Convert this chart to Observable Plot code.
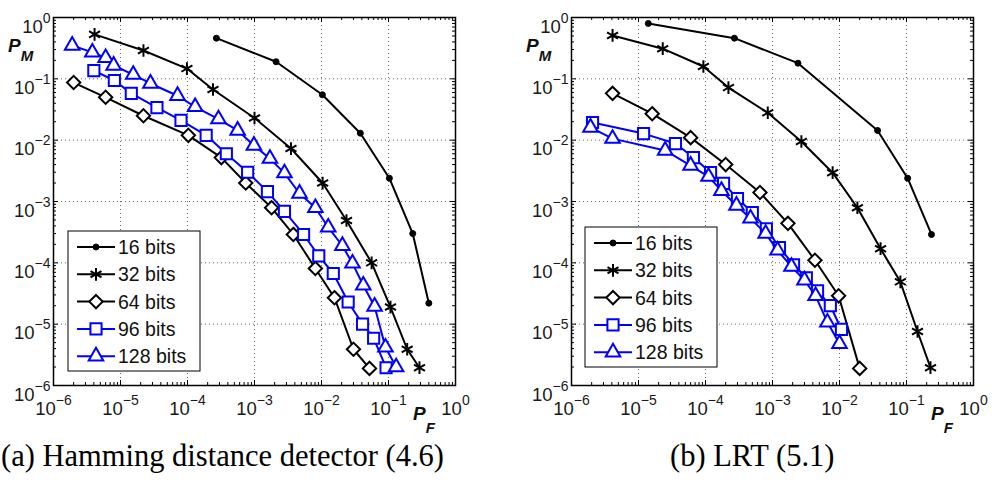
<!DOCTYPE html>
<html><head><meta charset="utf-8">
<script src="https://cdn.jsdelivr.net/npm/d3@7"></script>
<script src="https://cdn.jsdelivr.net/npm/@observablehq/plot@0.6"></script>
<style>
body{margin:0;background:#fff;overflow:hidden}
#fig{position:relative;width:993px;height:488px;font-family:"Liberation Sans",Arial,sans-serif;background:#fff}
#fig svg.panel{position:absolute;top:0}
.cap{position:absolute;top:441px;font-family:"Liberation Serif","Times New Roman",serif;font-size:30.5px;line-height:30px;white-space:nowrap;color:#000}
</style></head><body><div id="fig"></div>
<script>
// ---- shared ----
const decades = [1e-6, 1e-5, 1e-4, 1e-3, 1e-2, 1e-1, 1];
const seriesNames = ["16 bits", "32 bits", "64 bits", "96 bits", "128 bits"];
const seriesColors = ["#000", "#000", "#000", "#0000ff", "#0000ff"];
const captions = ["(a) Hamming distance detector (4.6)", "(b) LRT (5.1)"];

// ---- panel (a): Hamming distance detector ----
const hamF16 = [2.7e-4, 2.1e-3, 0.0103, 0.038, 0.103, 0.23, 0.4];
const hamM16 = [0.46, 0.19, 0.055, 0.013, 0.0024, 3.0e-4, 2.2e-5];
const hamF32 = [4.1e-6, 2.2e-5, 9.8e-5, 2.4e-4, 1.0e-3, 3.5e-3, 0.0104, 0.0236, 0.056, 0.107, 0.19, 0.29];
const hamM32 = [0.53, 0.29, 0.147, 0.067, 0.023, 0.0073, 0.0020, 4.9e-4, 1.0e-4, 1.9e-5, 3.9e-6, 1.95e-6];
const hamF64 = [2e-6, 6e-6, 2.2e-5, 1.03e-4, 3.2e-4, 7.4e-4, 1.8e-3, 3.8e-3, 8.1e-3, 0.0156, 0.030, 0.052];
const hamM64 = [0.087, 0.05, 0.025, 0.012, 0.0052, 0.0020, 7.9e-4, 2.9e-4, 8.1e-5, 2.7e-5, 3.9e-6, 1.9e-6];
const hamF96 = [4e-6, 8.1e-6, 1.45e-5, 3.5e-5, 8e-5, 1.9e-4, 3.8e-4, 7.9e-4, 1.56e-3, 2.8e-3, 5.4e-3, 9.1e-3, 0.015, 0.025, 0.041, 0.06, 0.092];
const hamM96 = [0.136, 0.094, 0.058, 0.034, 0.021, 0.012, 0.006, 0.003, 1.45e-3, 6.9e-4, 2.9e-4, 1.3e-4, 6.7e-5, 2.3e-5, 1.0e-5, 5.9e-6, 1.95e-6];
const hamF128 = [1.9e-6, 3.8e-6, 6e-6, 7.9e-6, 1.55e-5, 2.8e-5, 7.1e-5, 1.3e-4, 2.9e-4, 5.6e-4, 9.8e-4, 1.7e-3, 2.8e-3, 4.7e-3, 8.1e-3, 0.0126, 0.0205, 0.029, 0.042, 0.062, 0.09, 0.13];
const hamM128 = [0.35, 0.27, 0.22, 0.165, 0.117, 0.084, 0.053, 0.035, 0.022, 0.0144, 0.0082, 0.005, 0.0029, 1.35e-3, 7.9e-4, 3.8e-4, 1.9e-4, 9.8e-5, 4.3e-5, 1.94e-5, 4.2e-6, 2.0e-6];

// ---- panel (b): LRT ----
const lrtF16 = [1.4e-5, 2.7e-4, 2.4e-3, 0.037, 0.104, 0.236];
const lrtM16 = [0.8, 0.46, 0.18, 0.0144, 2.4e-3, 2.9e-4];
const lrtF32 = [4.1e-6, 2.3e-5, 9.3e-5, 2.2e-4, 8.5e-4, 2.7e-3, 7.9e-3, 0.0185, 0.041, 0.081, 0.146, 0.228];
const lrtM32 = [0.51, 0.31, 0.159, 0.072, 0.028, 0.0095, 2.95e-3, 7.9e-4, 1.7e-4, 4.9e-5, 7.6e-6, 1.95e-6];
const lrtF64 = [4.1e-6, 1.6e-5, 6e-5, 2e-4, 6.5e-4, 1.7e-3, 4.3e-3, 9.7e-3, 0.02];
const lrtM64 = [0.058, 0.027, 0.011, 0.004, 1.4e-3, 4.4e-4, 1.1e-4, 2.9e-5, 1.9e-6];
const lrtF96 = [2.06e-6, 1.19e-5, 3.56e-5, 6.6e-5, 1.19e-4, 1.86e-4, 3.0e-4, 5.0e-4, 8.1e-4, 1.27e-3, 2.06e-3, 3.2e-3, 4.7e-3, 7.3e-3, 0.0107];
const lrtM96 = [0.0194, 0.0128, 0.0088, 0.0052, 0.00297, 0.00197, 0.00112, 6.6e-4, 3.6e-4, 1.78e-4, 9.3e-5, 5.7e-5, 3.5e-5, 2.0e-5, 8.2e-6];
const lrtF128 = [1.92e-6, 4.1e-6, 2.5e-5, 6.0e-5, 1.11e-4, 1.73e-4, 2.9e-4, 4.7e-4, 7.9e-4, 1.19e-3, 1.92e-3, 3.0e-3, 4.4e-3, 6.6e-3, 0.01];
const lrtM128 = [0.0161, 0.0106, 0.0068, 0.00386, 0.00255, 0.0015, 8.6e-4, 5.3e-4, 3.0e-4, 1.6e-4, 8.7e-5, 5.2e-5, 2.9e-5, 1.07e-5, 4.8e-6];

// marker styles per series
const markerSymbol = ["circle", "asterisk", "diamond2", "square", "triangle"];
const markerR = [3, 6, 6, 6.3, 5.4];
const markerFill = ["#000", "none", "#fff", "#fff", "#fff"];
const d3Symbol = {circle: d3.symbolCircle, asterisk: d3.symbolAsterisk, diamond2: d3.symbolDiamond2, square: d3.symbolSquare, triangle: d3.symbolTriangle};

function makePanel(Fs, Ms, legendBox) {
  const W = 475, H = 445, mL = 53, mR = 20, mT = 17, mB = 60;
  const innerH = H - mT - mB, innerW = W - mL - mR;
  const minor = decades.slice(0, -1).flatMap(d => d3.range(2, 10).map(k => k * d));
  const expFmt = d => String(Math.round(Math.log10(d))).replace("-", "\u2212");
  const marks = [
    Plot.gridX(decades.slice(1, -1), {stroke: "#000", strokeOpacity: 0.6, strokeDasharray: "1,3"}),
    Plot.gridY(decades.slice(1, -1), {stroke: "#000", strokeOpacity: 0.6, strokeDasharray: "1,3"}),
    Plot.tickX(decades, {x: d => d, insetTop: innerH - 5, stroke: "#000"}),
    Plot.tickX(decades, {x: d => d, insetBottom: innerH - 5, stroke: "#000"}),
    Plot.tickX(minor, {x: d => d, insetTop: innerH - 3, stroke: "#000"}),
    Plot.tickX(minor, {x: d => d, insetBottom: innerH - 3, stroke: "#000"}),
    Plot.tickY(decades, {y: d => d, insetRight: innerW - 5, stroke: "#000"}),
    Plot.tickY(decades, {y: d => d, insetLeft: innerW - 5, stroke: "#000"}),
    Plot.tickY(minor, {y: d => d, insetRight: innerW - 3, stroke: "#000"}),
    Plot.tickY(minor, {y: d => d, insetLeft: innerW - 3, stroke: "#000"}),
    Plot.axisX(decades, {tickSize: 0, tickPadding: 16, tickFormat: expFmt, label: null}),
    Plot.axisY(decades, {tickSize: 0, tickPadding: 3, tickFormat: expFmt, label: null})
  ];
  seriesNames.forEach((s, i) => {
    const rows = Fs[i].map((f, j) => ({f, m: Ms[i][j]}));
    marks.push(Plot.line(rows, {x: "f", y: "m", stroke: seriesColors[i], strokeWidth: 2}));
    marks.push(Plot.dot(rows, {x: "f", y: "m", symbol: markerSymbol[i], r: markerR[i], stroke: seriesColors[i], fill: markerFill[i], strokeWidth: i === 0 ? 1 : 2}));
  });
  marks.push(Plot.frame({stroke: "#000", strokeWidth: 1.5}));
  const svg = Plot.plot({
    width: W, height: H, marginLeft: mL, marginRight: mR, marginTop: mT, marginBottom: mB,
    style: {fontFamily: "'Liberation Sans', Arial, sans-serif", background: "white", overflow: "visible"},
    x: {type: "log", domain: [1e-6, 1], label: null},
    y: {type: "log", domain: [1e-6, 1], label: null},
    marks
  });
  const sel = d3.select(svg);
  const tickTexts = sel.selectAll('g[aria-label="x-axis tick label"] text, g[aria-label="y-axis tick label"] text');
  tickTexts.each(function () {
    const t = d3.select(this); const e = t.text();
    t.text(null);
    t.style("font-size", "18.5px").style("fill", "#1a1a1a");
    t.append("tspan").text("10");
    t.append("tspan").attr("dy", -10).style("font-size", "14px").text(e);
  });
  sel.selectAll('g[aria-label="y-axis tick label"] text').attr("dy", "0.5em");
  // legend
  const lg = sel.append("g").attr("transform", `translate(${legendBox[0]},${legendBox[1]})`);
  lg.append("rect").attr("width", 132).attr("height", 140).attr("fill", "#fff").attr("stroke", "#000").attr("stroke-width", 1);
  seriesNames.forEach((s, i) => {
    const y = 16 + i * 27.3;
    lg.append("line").attr("x1", 9).attr("x2", 47).attr("y1", y).attr("y2", y).attr("stroke", seriesColors[i]).attr("stroke-width", 2);
    lg.append("path").attr("transform", `translate(28,${y})`)
      .attr("d", d3.symbol(d3Symbol[markerSymbol[i]], Math.PI * markerR[i] * markerR[i])())
      .attr("fill", markerFill[i]).attr("stroke", seriesColors[i]).attr("stroke-width", i === 0 ? 1 : 2);
    lg.append("text").attr("x", 50).attr("y", y + 7).attr("text-anchor", "start")
      .style("font-size", "19.5px").style("fill", "#111").text(s);
  });
  // axis labels
  const pm = sel.append("text").attr("x", 8).attr("y", 52).attr("text-anchor", "start")
    .style("font-weight", "bold").style("font-style", "italic").style("font-size", "19px").style("fill", "#111");
  pm.append("tspan").text("P");
  pm.append("tspan").attr("dy", 9).style("font-size", "15px").text("M");
  const pf = sel.append("text").attr("x", W - 62).attr("y", 420).attr("text-anchor", "start")
    .style("font-weight", "bold").style("font-style", "italic").style("font-size", "19px").style("fill", "#111");
  pf.append("tspan").text("P");
  pf.append("tspan").attr("dy", 13).style("font-size", "15px").text("F");
  svg.classList.add("panel");
  return svg;
}

const fig = document.getElementById("fig");
const left = makePanel([hamF16, hamF32, hamF64, hamF96, hamF128], [hamM16, hamM32, hamM64, hamM96, hamM128], [68, 231]);
left.style.left = "0px";
fig.appendChild(left);
const right = makePanel([lrtF16, lrtF32, lrtF64, lrtF96, lrtF128], [lrtM16, lrtM32, lrtM64, lrtM96, lrtM128], [67, 227]);
right.style.left = "518px";
fig.appendChild(right);
const c1 = document.createElement("div"); c1.className = "cap"; c1.style.left = "1px"; c1.textContent = captions[0]; fig.appendChild(c1);
const c2 = document.createElement("div"); c2.className = "cap"; c2.style.left = "670px"; c2.textContent = captions[1]; fig.appendChild(c2);
</script>
</body></html>
